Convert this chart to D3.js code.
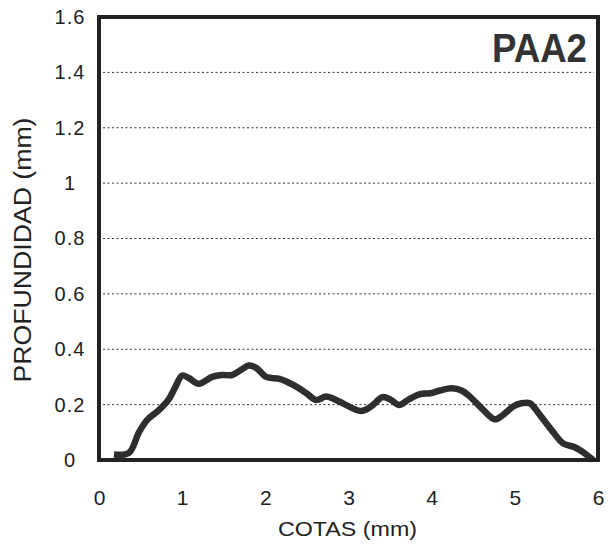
<!DOCTYPE html>
<html><head><meta charset="utf-8">
<script src="https://cdn.jsdelivr.net/npm/d3@7"></script>
<style>body{margin:0;background:#fff}svg{display:block}</style>
</head><body>
<svg id="c" width="613" height="548"></svg>
<script>
const xTicks = [0,1,2,3,4,5,6];
const yTicks = [0,0.2,0.4,0.6,0.8,1,1.2,1.4,1.6];
const yTickLabels = ["0","0.2","0.4","0.6","0.8","1","1.2","1.4","1.6"];
const cotas = [0.18,0.36,0.48,0.58,0.72,0.84,0.92,1.0,1.08,1.2,1.36,1.48,1.6,1.71,1.8,1.89,2.01,2.17,2.33,2.49,2.61,2.73,2.85,2.93,3.15,3.27,3.41,3.51,3.61,3.73,3.86,3.98,4.10,4.24,4.36,4.46,4.62,4.76,4.86,4.98,5.08,5.18,5.30,5.44,5.58,5.72,5.84,5.94];
const profundidad = [0.02,0.026,0.1,0.145,0.18,0.22,0.265,0.305,0.296,0.275,0.30,0.307,0.307,0.326,0.341,0.333,0.30,0.293,0.272,0.242,0.217,0.229,0.217,0.205,0.177,0.193,0.227,0.217,0.199,0.22,0.238,0.241,0.251,0.259,0.251,0.229,0.181,0.147,0.163,0.193,0.205,0.205,0.163,0.109,0.06,0.046,0.024,0.0];
const title = "PAA2";

const svg = d3.select("#c");
const L=99, R=598, T=17, B=460;
const x = d3.scaleLinear().domain([0,6]).range([L,R]);
const y = d3.scaleLinear().domain([0,1.6]).range([B,T]);
const font = "Arial, 'Liberation Sans', Helvetica, sans-serif";

// gridlines
svg.append("g").selectAll("line").data(yTicks.filter(d=>d>0 && d<1.6)).join("line")
  .attr("x1",L+4).attr("x2",R-4).attr("y1",d=>y(d)).attr("y2",d=>y(d))
  .attr("stroke","#333").attr("stroke-width",1).attr("stroke-dasharray","2,2.5");

// y tick labels
const ya = d3.axisLeft(y).tickValues(yTicks).tickFormat((d,i)=>yTickLabels[i]).tickSize(0).tickPadding(0);
const gy = svg.append("g").attr("transform",`translate(${L},0)`).call(ya);
gy.select(".domain").remove();
gy.selectAll("text").attr("x",-29).attr("text-anchor","middle")
  .attr("font-family",font).attr("font-size",20).attr("letter-spacing",1).attr("fill","#222");

// x tick labels
const xa = d3.axisBottom(x).tickValues(xTicks).tickFormat(d3.format("d")).tickSize(0).tickPadding(0);
const gx = svg.append("g").attr("transform",`translate(0,${B})`).call(xa);
gx.select(".domain").remove();
gx.selectAll("text").attr("y",45).attr("dy",null)
  .attr("font-family",font).attr("font-size",21).attr("fill","#222");

// data line
const line = d3.line().x((d,i)=>x(cotas[i])).y(d=>y(d)).curve(d3.curveCatmullRom.alpha(0.5));
svg.append("path").datum(profundidad).attr("d",line)
  .attr("fill","none").attr("stroke","#2e2e2e").attr("stroke-width",6.5)
  .attr("stroke-linejoin","round").attr("stroke-linecap","butt");

// frame
svg.append("rect").attr("x",L).attr("y",T).attr("width",R-L).attr("height",B-T)
  .attr("fill","none").attr("stroke","#222").attr("stroke-width",4);

// title
svg.append("text").attr("x",587).attr("y",62).attr("text-anchor","end")
  .attr("font-family",font).attr("font-weight","bold").attr("font-size",40)
  .attr("textLength",95).attr("lengthAdjust","spacingAndGlyphs").attr("fill","#333").text(title);

// axis titles
svg.append("text").attr("x",347.5).attr("y",536).attr("text-anchor","middle")
  .attr("font-family",font).attr("font-size",21).attr("textLength",139)
  .attr("lengthAdjust","spacingAndGlyphs").attr("fill","#222").text("COTAS (mm)");
svg.append("text").attr("transform","translate(31,250) rotate(-90)").attr("text-anchor","middle")
  .attr("font-family",font).attr("font-size",23).attr("textLength",265)
  .attr("lengthAdjust","spacingAndGlyphs").attr("fill","#222").text("PROFUNDIDAD (mm)");
</script>
</body></html>
